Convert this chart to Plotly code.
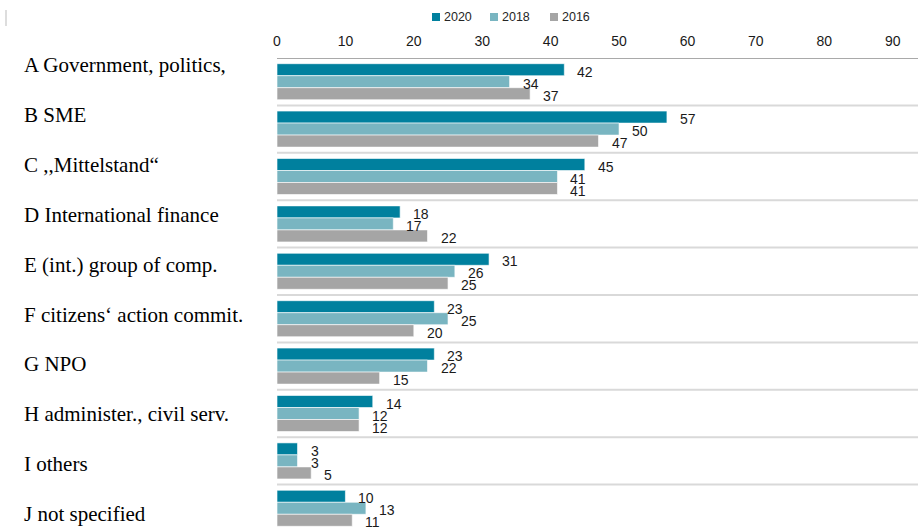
import plotly.graph_objects as go

# Categories (top to bottom) and survey shares per year
categories = [
    "A Government, politics,",
    "B SME",
    "C ,,Mittelstand\u201c",
    "D International finance",
    "E (int.) group of comp.",
    "F citizens\u2018 action commit.",
    "G NPO",
    "H administer., civil serv.",
    "I others",
    "J not specified",
]

series_names = ["2020", "2018", "2016"]
values_2020 = [42, 57, 45, 18, 31, 23, 23, 14, 3, 10]
values_2018 = [34, 50, 41, 17, 26, 25, 22, 12, 3, 13]
values_2016 = [37, 47, 41, 22, 25, 20, 15, 12, 5, 11]
series_values = [values_2020, values_2018, values_2016]
series_colors = ["#00809E", "#79B5C1", "#A5A5A5"]

x_ticks = [0, 10, 20, 30, 40, 50, 60, 70, 80, 90]

# Page geometry (pixels)
W, H = 918, 529
M_L, M_T = 277, 58
PLOT_W, PLOT_H = W - M_L, H - M_T
BAND = 47.4                      # pixel height of one category band
Y_SPAN = PLOT_H / BAND
X_MAX = 93.7

def px_to_paper_x(px):
    return (px - M_L) / PLOT_W

def px_to_paper_y(py):
    return 1 - (py - M_T) / PLOT_H

fig = go.Figure()
positions = list(range(len(categories)))
for name, vals, col in zip(series_names, series_values, series_colors):
    fig.add_trace(go.Bar(
        name=name, x=vals, y=positions, orientation="h",
        marker=dict(color=col, line=dict(color="rgba(255,255,255,0.6)", width=1)),
        showlegend=False, hoverinfo="x+name",
    ))

annotations = []
shapes = []

# value labels beside each bar
bar_h = 12 / BAND
for k, vals in enumerate(series_values):
    for i, v in enumerate(vals):
        annotations.append(dict(
            x=v, y=i + (k - 1) * bar_h, xref="x", yref="y",
            text=str(v), showarrow=False, xanchor="left", yanchor="middle",
            xshift=11, yshift=-2,
            font=dict(family="Liberation Sans, Arial", size=14, color="#1a1a1a"),
        ))

# category labels on the left
for i, c in enumerate(categories):
    center_px = 65.0 + 49.9 * i
    annotations.append(dict(
        x=px_to_paper_x(22), y=px_to_paper_y(center_px), xref="paper", yref="paper",
        text=c, showarrow=False, xanchor="left", yanchor="middle",
        font=dict(family="Liberation Serif, Times New Roman, serif", size=21, color="#000000"),
    ))

# separators between categories
for i in range(len(categories) - 1):
    shapes.append(dict(
        type="line", xref="paper", yref="y", x0=0, x1=1, y0=i + 0.5, y1=i + 0.5,
        line=dict(color="#D9D9D9", width=2), layer="below",
    ))
# top axis line
shapes.append(dict(
    type="line", xref="paper", yref="y", x0=0, x1=1, y0=-0.5, y1=-0.5,
    line=dict(color="#8C8C8C", width=1.5),
))
# thin mark in the top-left corner
shapes.append(dict(
    type="line", xref="paper", yref="paper",
    x0=px_to_paper_x(6), x1=px_to_paper_x(6), y0=px_to_paper_y(10), y1=px_to_paper_y(26),
    line=dict(color="#DDDDDD", width=2),
))

# legend drawn at the top centre
legend_x = [432, 490, 550]
for name, col, lx in zip(series_names, series_colors, legend_x):
    shapes.append(dict(
        type="rect", xref="paper", yref="paper",
        x0=px_to_paper_x(lx), x1=px_to_paper_x(lx + 8),
        y0=px_to_paper_y(21), y1=px_to_paper_y(13),
        fillcolor=col, line=dict(width=0),
    ))
    annotations.append(dict(
        x=px_to_paper_x(lx + 10), y=px_to_paper_y(17), xref="paper", yref="paper",
        text=name, showarrow=False, xanchor="left", yanchor="middle",
        font=dict(family="Liberation Sans, Arial", size=12.5, color="#262626"),
    ))

fig.update_layout(
    width=W, height=H,
    margin=dict(l=M_L, r=0, t=M_T, b=0, pad=0),
    paper_bgcolor="white", plot_bgcolor="white",
    barmode="group", bargap=0.24, bargroupgap=0,
    xaxis=dict(
        side="top", range=[0, X_MAX], tickvals=x_ticks,
        ticktext=[str(t) for t in x_ticks],
        showgrid=False, zeroline=False, showline=False,
        ticks="outside", ticklen=5, tickcolor="rgba(0,0,0,0)",
        tickfont=dict(family="Liberation Sans, Arial", size=14, color="#1a1a1a"),
        fixedrange=True,
    ),
    yaxis=dict(
        range=[Y_SPAN - 0.5, -0.5], showticklabels=False, showgrid=False,
        zeroline=False, showline=False, ticks="", fixedrange=True,
    ),
    annotations=annotations, shapes=shapes,
    showlegend=False,
)

fig.write_html("out.html")
